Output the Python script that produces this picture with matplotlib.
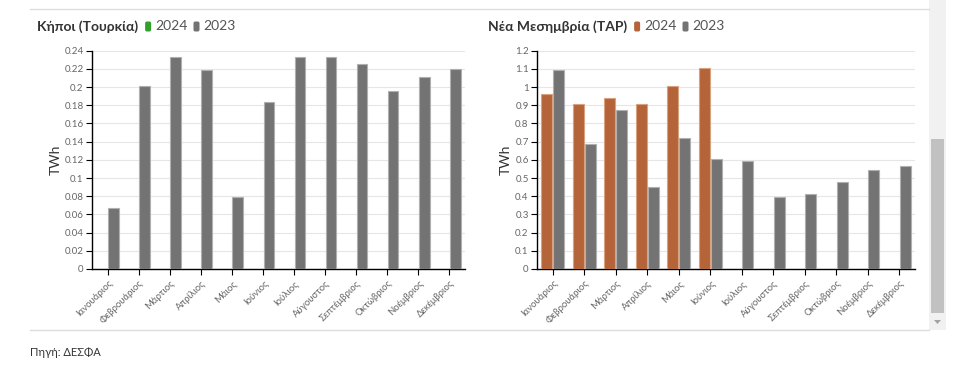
import numpy as np
import matplotlib
matplotlib.use("Agg")
import matplotlib.pyplot as plt
from matplotlib.patches import Rectangle, FancyBboxPatch, Polygon
from matplotlib.lines import Line2D

plt.rcParams["font.family"] = ["Lato", "DejaVu Sans"]

months = ["Ιανουάριος", "Φεβρουάριος", "Μάρτιος", "Απρίλιος", "Μάιος", "Ιούνιος",
          "Ιούλιος", "Αύγουστος", "Σεπτέμβριος", "Οκτώβριος", "Νοέμβριος", "Δεκέμβριος"]

kipoi_2024 = [np.nan] * 12
kipoi_2023 = [0.067, 0.201, 0.233, 0.219, 0.079, 0.184,
              0.233, 0.233, 0.225, 0.196, 0.211, 0.220]

tap_2024 = [0.963, 0.907, 0.938, 0.907, 1.005, 1.103,
            np.nan, np.nan, np.nan, np.nan, np.nan, np.nan]
tap_2023 = [1.092, 0.687, 0.874, 0.450, 0.720, 0.603,
            0.592, 0.397, 0.414, 0.478, 0.544, 0.566]

GRAY = "#737373"
GRAY_EDGE = "#b0b0b0"
TEXT = "#333333"
TICK = "#666666"

fig = plt.figure(figsize=(9.6, 3.75), dpi=100)
W, H = 960, 375


def px(x0, y0, x1, y1):
    # pixel box (top-left origin) -> figure fraction [l, b, w, h]
    return [x0 / W, 1 - y1 / H, (x1 - x0) / W, (y1 - y0) / H]


def draw_panel(box, v24, v23, c24, e24, ymax, ystep, fmt, title, tx, ty):
    ax = fig.add_axes(px(*box))
    x = np.arange(len(months))
    ax.bar(x - 0.19, v24, width=0.34, color=c24, edgecolor=e24, linewidth=0.8, zorder=3)
    ax.bar(x + 0.19, v23, width=0.34, color=GRAY, edgecolor=GRAY_EDGE, linewidth=0.8, zorder=3)
    ax.set_xlim(-0.5, len(months) - 0.5)
    ax.set_ylim(0, ymax)
    ticks = np.arange(0, ymax + ystep / 2, ystep)
    ax.set_yticks(ticks)
    ax.set_yticklabels([fmt(t) for t in ticks])
    ax.set_xticks(x)
    ax.set_xticklabels(months, rotation=45, ha="right", va="top",
                       rotation_mode="anchor", fontsize=6.8, color=TICK)
    ax.tick_params(axis="y", labelsize=7, colors=TICK, length=4, width=0.8,
                   pad=2)
    ax.tick_params(axis="x", length=4, width=0.8, pad=3, color="black")
    ax.tick_params(axis="y", color="black")
    ax.yaxis.grid(True, color="#e6e6e6", linewidth=0.8, zorder=0)
    ax.set_axisbelow(True)
    for s in ["top", "right"]:
        ax.spines[s].set_visible(False)
    for s in ["left", "bottom"]:
        ax.spines[s].set_color("black")
        ax.spines[s].set_linewidth(1.0)
    ax.set_ylabel("TWh", fontsize=10, color=TEXT, labelpad=2)

    # title + legend
    t = fig.text(tx / W, 1 - ty / H, title, fontsize=10, fontweight="bold",
                 color=TEXT, va="center", ha="left")
    fig.canvas.draw()
    r = fig.canvas.get_renderer()
    bb = t.get_window_extent(r)
    xpos = bb.x1 + 7
    for col, lab in [(c24, "2024"), (GRAY, "2023")]:
        fig.patches.append(FancyBboxPatch(
            (xpos / W, (H - ty - 5) / H), 6 / W, 10 / H,
            boxstyle="round,pad=0,rounding_size=0.0018",
            transform=fig.transFigure, facecolor=col, edgecolor="none",
            mutation_aspect=W / H))
        lt = fig.text((xpos + 10) / W, 1 - ty / H, lab, fontsize=10,
                      color="#555555", va="center", ha="left")
        fig.canvas.draw()
        xpos = lt.get_window_extent(r).x1 + 6
    return ax


fmt_small = lambda v: "0" if v == 0 else ("%.2f" % v).rstrip("0").rstrip(".")
fmt_big = lambda v: "0" if v == 0 else ("%.1f" % v).rstrip("0").rstrip(".")

draw_panel((92, 50.7, 465, 269), kipoi_2024, kipoi_2023, "#34a02c", "#34a02c",
           0.24, 0.02, fmt_small, "Κήποι (Τουρκία)", 37, 26.5)
draw_panel((537, 50.7, 915, 269), tap_2024, tap_2023, "#b5643a", "#d9a27f",
           1.2, 0.1, fmt_big, "Νέα Μεσημβρία (TAP)", 488, 26.5)

# separator lines
fig.add_artist(Line2D([30 / W, 929 / W], [1 - 9.3 / H] * 2, color="#dddddd", lw=1))
fig.add_artist(Line2D([30 / W, 929 / W], [1 - 330 / H] * 2, color="#dddddd", lw=1))

# scrollbar
fig.patches.append(Rectangle((929 / W, 1 - 330 / H), 17 / W, 330 / H,
                             transform=fig.transFigure, facecolor="#f1f1f1", edgecolor="none"))
fig.patches.append(Rectangle((931 / W, 1 - 313 / H), 13 / W, 174 / H,
                             transform=fig.transFigure, facecolor="#c1c1c1", edgecolor="none"))
fig.patches.append(Polygon([[934 / W, 1 - 320 / H], [941 / W, 1 - 320 / H],
                            [937.5 / W, 1 - 324 / H]], closed=True,
                           transform=fig.transFigure, facecolor="#a3a3a3", edgecolor="none"))

fig.text(30 / W, 1 - 352 / H, "Πηγή: ΔΕΣΦΑ", fontsize=8, color=TEXT, va="center")

fig.savefig("out.png", dpi=100)
